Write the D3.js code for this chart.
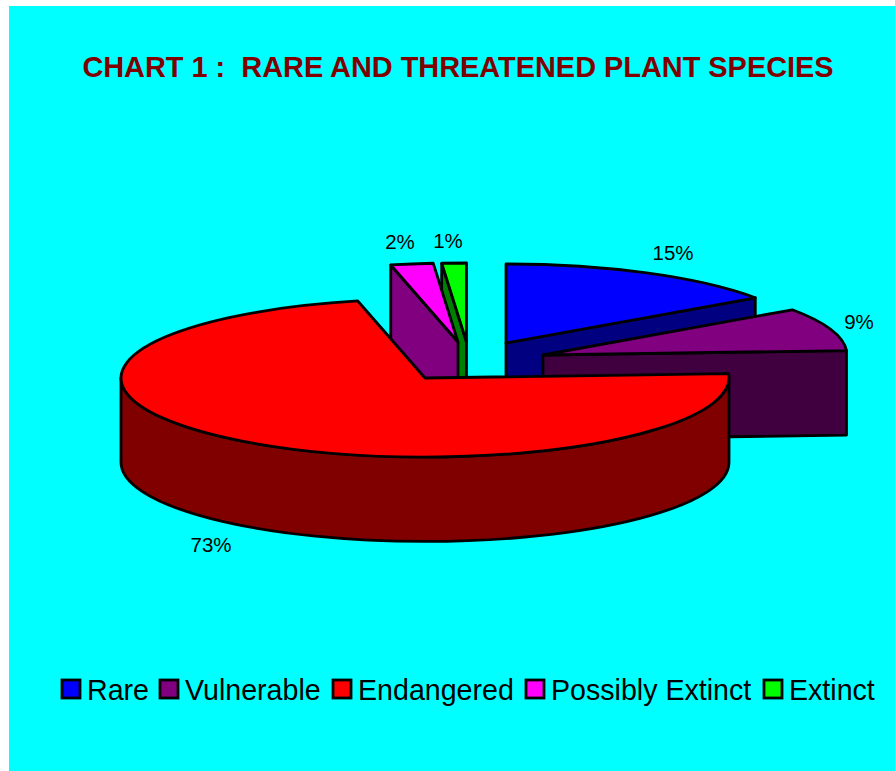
<!DOCTYPE html>
<html>
<head>
<meta charset="utf-8">
<script src="https://cdn.jsdelivr.net/npm/d3@7"></script>
<style>
  html, body { margin: 0; padding: 0; background: #fff; overflow: hidden; }
  svg { display: block; }
  text { font-family: "Liberation Sans", Arial, sans-serif; }
</style>
</head>
<body>
<div id="chart"></div>
<script>
// chart data
var categories = ["Rare", "Vulnerable", "Endangered", "Possibly Extinct", "Extinct"];
var shares = [15.3, 8.8, 72.35, 2.25, 1.3];
var percentLabels = ["15%", "9%", "73%", "2%", "1%"];
var chartTitle = "CHART 1 :  RARE AND THREATENED PLANT SPECIES";

// styling
var topColors = ["#0000ff", "#800080", "#ff0000", "#ff00ff", "#00ff00"];
var sideColors = ["#000080", "#400040", "#800000", "#800080", "#008000"];

var svgWidth = 895;
var svgHeight = 771;

var svg = d3.select("#chart")
    .append("svg")
    .attr("width", svgWidth)
    .attr("height", svgHeight);

svg.append("rect")
    .attr("x", 9)
    .attr("y", 6)
    .attr("width", svgWidth - 9)
    .attr("height", svgHeight - 6)
    .attr("fill", "#00ffff");

svg.append("text")
    .attr("x", 458)
    .attr("y", 77)
    .attr("text-anchor", "middle")
    .attr("font-size", 28.9)
    .attr("font-weight", "bold")
    .attr("fill", "#800000")
    .style("white-space", "pre")
    .text(chartTitle);

// pie geometry
var cx = 425, cy = 378, rx = 304, ry = 79, depth = 84.5;
// how far each slice is pulled out of the pie, in pixels
var pullX = [81, 118, 0, 33, 41.5];
var pullY = [-35, -23, 0, -36, -36];
var labelX = [673, 859, 211, 400, 448];
var labelY = [260, 329, 552, 249, 248];

var pie = d3.pie().sort(null).value(d => d);
var slices = pie(shares).map(function(d, i) {
    return {
        i: i,
        start: d.startAngle,
        end: d.endAngle,
        ox: cx + pullX[i],
        oy: cy + pullY[i]
    };
});

function point(s, a, drop) {
    return [s.ox + rx * Math.sin(a), s.oy - ry * Math.cos(a) + (drop || 0)];
}

function topPath(s) {
    var p0 = point(s, s.start), p1 = point(s, s.end);
    var large = s.end - s.start > Math.PI ? 1 : 0;
    return `M${s.ox},${s.oy}L${p0}A${rx},${ry} 0 ${large} 1 ${p1}Z`;
}

// flat cut face hanging under the edge running from centre to angle a
function facePath(s, a) {
    var p = point(s, a);
    return `M${s.ox},${s.oy}L${p}L${point(s, a, depth)}L${s.ox},${s.oy + depth}Z`;
}

// outer wall, only the part on the front half of the ellipse shows
function wallPath(s) {
    var a0 = Math.max(s.start, Math.PI / 2);
    var a1 = Math.min(s.end, Math.PI * 1.5);
    if (a1 <= a0) return null;
    var large = a1 - a0 > Math.PI ? 1 : 0;
    return `M${point(s, a0)}A${rx},${ry} 0 ${large} 1 ${point(s, a1)}` +
        `L${point(s, a1, depth)}A${rx},${ry} 0 ${large} 0 ${point(s, a0, depth)}Z`;
}

// back to front
var drawOrder = [4, 3, 0, 1, 2];
// cut faces that look towards the viewer
var visibleFace = [s => s.end, s => s.end, null, s => s.start, s => s.start];

var pieGroup = svg.append("g")
    .attr("stroke", "#000")
    .attr("stroke-width", 2.8)
    .attr("stroke-linejoin", "round");

drawOrder.forEach(function(idx) {
    var s = slices[idx];
    var group = pieGroup.append("g");
    if (visibleFace[idx]) {
        group.append("path")
            .attr("d", facePath(s, visibleFace[idx](s)))
            .attr("fill", sideColors[idx]);
    }
    var wall = wallPath(s);
    if (wall) {
        group.append("path")
            .attr("d", wall)
            .attr("fill", sideColors[idx]);
    }
    group.append("path")
        .attr("d", topPath(s))
        .attr("fill", topColors[idx]);
});

svg.selectAll(".pct")
    .data(percentLabels)
    .enter()
    .append("text")
    .attr("class", "pct")
    .attr("x", (d, i) => labelX[i])
    .attr("y", (d, i) => labelY[i])
    .attr("text-anchor", "middle")
    .attr("font-size", 20.5)
    .attr("fill", "#000")
    .text(d => d);

// legend
var legendX = [62, 160, 333, 526, 764];
var legend = svg.selectAll(".legend")
    .data(categories)
    .enter()
    .append("g")
    .attr("class", "legend")
    .attr("transform", (d, i) => `translate(${legendX[i]}, 680)`);

legend.append("rect")
    .attr("width", 18)
    .attr("height", 18)
    .attr("fill", (d, i) => topColors[i])
    .attr("stroke", "#000")
    .attr("stroke-width", 2.8);

legend.append("text")
    .attr("x", 25)
    .attr("y", 19.5)
    .attr("font-size", 28.6)
    .attr("fill", "#000")
    .text(d => d);
</script>
</body>
</html>
